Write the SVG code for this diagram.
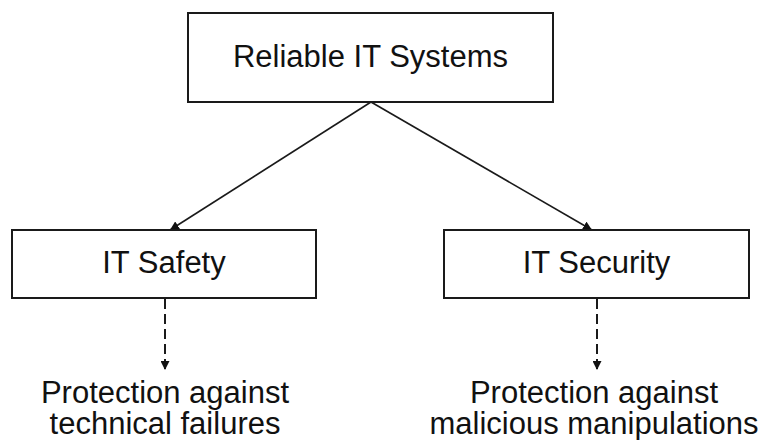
<svg xmlns="http://www.w3.org/2000/svg" width="765" height="440" viewBox="0 0 765 440">
  <style>
    .box { fill: #ffffff; stroke: #1a1a1a; stroke-width: 2; }
    .label { font-family: "Liberation Sans", Arial, sans-serif; font-size: 31px; fill: #111111; text-anchor: middle; }
    .edge { stroke: #1a1a1a; stroke-width: 1.6; fill: none; }
    .dashed { stroke: #1a1a1a; stroke-width: 2; fill: none; stroke-dasharray: 10 5; }
  </style>
  <defs>
    <marker id="arrow" viewBox="0 0 10 10" refX="10" refY="5" markerWidth="9" markerHeight="9" markerUnits="userSpaceOnUse" orient="auto">
      <path d="M0,0 L10,5 L0,10 Z" fill="#111111"/>
    </marker>
  </defs>
  <rect width="765" height="440" fill="#ffffff"/>

  <g id="connectors">
    <line class="edge" x1="371" y1="102" x2="170" y2="230" marker-end="url(#arrow)"/>
    <line class="edge" x1="371" y1="102" x2="592" y2="230" marker-end="url(#arrow)"/>
    <line class="dashed" x1="165" y1="299" x2="165" y2="370" marker-end="url(#arrow)"/>
    <line class="dashed" x1="597" y1="299" x2="597" y2="370" marker-end="url(#arrow)"/>
  </g>

  <g id="reliable-it-systems">
    <rect class="box" x="188" y="13" width="365" height="89"/>
    <text class="label" x="370.5" y="67">Reliable IT Systems</text>
  </g>

  <g id="it-safety">
    <rect class="box" x="12" y="230" width="304" height="68"/>
    <text class="label" x="164" y="273">IT Safety</text>
  </g>

  <g id="it-security">
    <rect class="box" x="444" y="230" width="305" height="68"/>
    <text class="label" x="596.5" y="273">IT Security</text>
  </g>

  <g id="safety-goal">
    <text class="label" x="165" y="403">Protection against</text>
    <text class="label" x="165" y="434">technical failures</text>
  </g>

  <g id="security-goal">
    <text class="label" x="594" y="403">Protection against</text>
    <text class="label" x="594" y="434">malicious manipulations</text>
  </g>
</svg>
